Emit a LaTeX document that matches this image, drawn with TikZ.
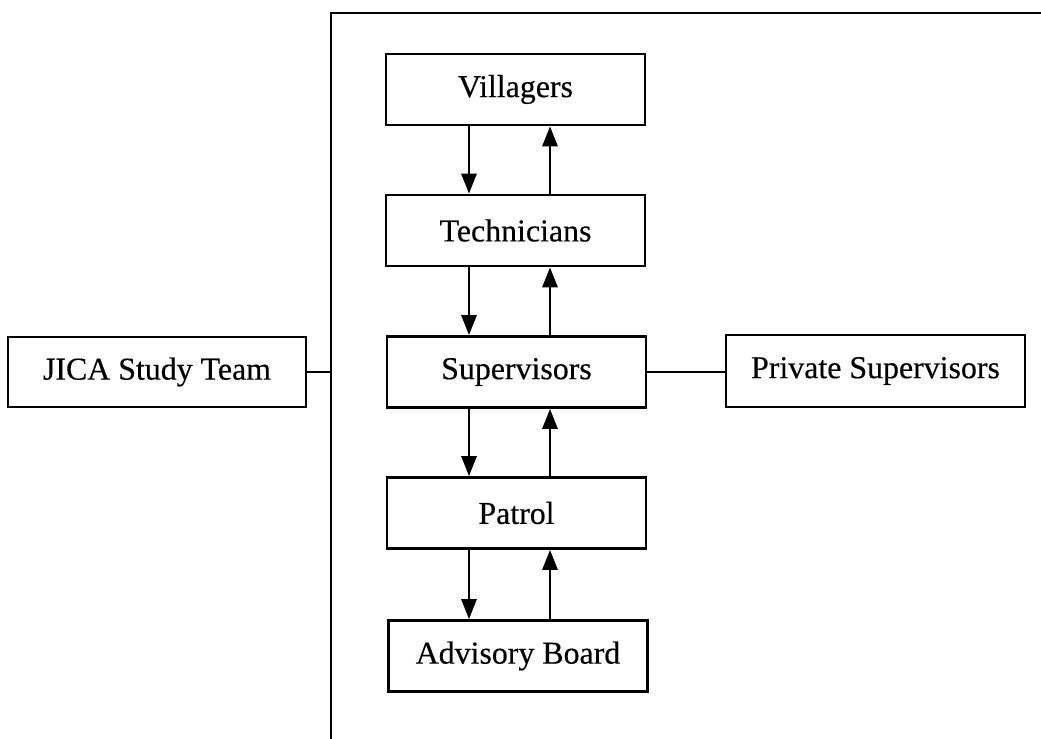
\documentclass[tikz,border=0pt]{standalone}
\usepackage{fontspec}
\setmainfont{Liberation Serif}
\newfontfamily\boxfont[FakeBold=0.35]{Liberation Serif}
\usetikzlibrary{arrows.meta}
\begin{document}
\begin{tikzpicture}[x=1bp,y=-1bp,
  box/.style={draw,line width=2.6bp,minimum width=259bp,minimum height=71bp,inner sep=0pt,
    font=\boxfont\fontsize{32}{36}\selectfont},
  arr/.style={line width=2.8bp,-{Triangle[length=20bp,width=15bp]}},
  link/.style={line width=2.4bp}]
\useasboundingbox (0,0) rectangle (1041,739);
% frame lines
\coordinate (ftop) at (331,13);
\coordinate (fright) at (1041,13);
\coordinate (fbot) at (331,739);
\draw[link] (fright) -- (ftop) -- (fbot);
% boxes
\node[box] (vil) at (515.5,89.5) {Villagers};
\node[box] (tec) at (515.5,230.5) {Technicians};
\node[box] (sup) at (516.5,372) {Supervisors};
\node[box] (pat) at (516.5,513) {Patrol};
\node[box] (adv) at (518,656) {Advisory Board};
\node[box,minimum width=298bp,minimum height=70bp] (jica) at (157,372) {JICA Study Team};
\node[box,minimum width=299bp,minimum height=72bp] (priv) at (875.5,371) {Private Supervisors};
% side links
\draw[link] (jica.east) -- (jica.east -| ftop);
\draw[link] (sup.east) -- (priv.west |- sup.east);
% vertical arrows
\coordinate (dn) at (469,0);
\coordinate (up) at (550,0);
\draw[arr] (vil.south -| dn) -- (tec.north -| dn);
\draw[arr] (tec.north -| up) -- (vil.south -| up);
\draw[arr] (tec.south -| dn) -- (sup.north -| dn);
\draw[arr] (sup.north -| up) -- (tec.south -| up);
\draw[arr] (sup.south -| dn) -- (pat.north -| dn);
\draw[arr] (pat.north -| up) -- (sup.south -| up);
\draw[arr] (pat.south -| dn) -- (adv.north -| dn);
\draw[arr] (adv.north -| up) -- (pat.south -| up);
\end{tikzpicture}
\end{document}
